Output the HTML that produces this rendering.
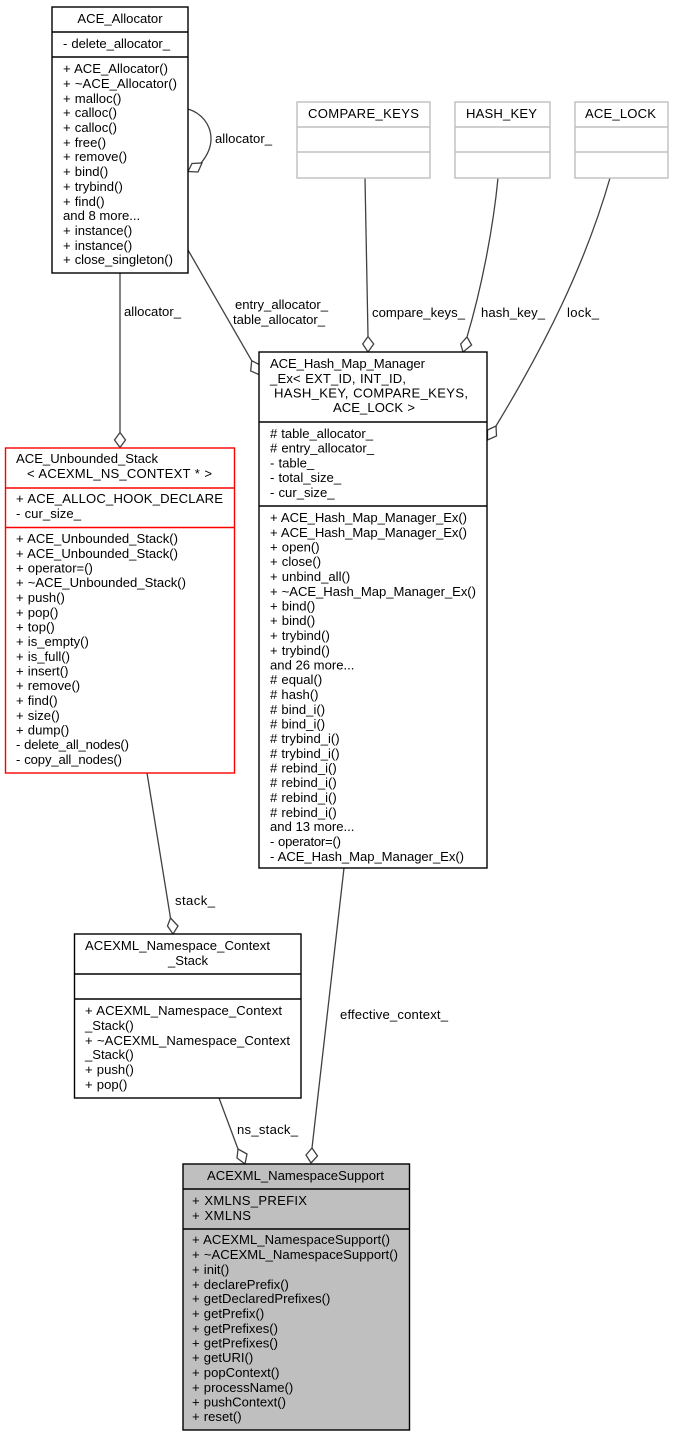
<!DOCTYPE html>
<html><head><meta charset="utf-8"><style>
html,body{margin:0;padding:0;background:#fff}
svg{display:block}
text{font-family:"Liberation Sans",sans-serif;font-size:13.1px;fill:#000;word-spacing:.5px}
.m{text-anchor:middle}
.n{word-spacing:0}
.b{fill:#fff;stroke:#000;stroke-width:1.4}
.g{fill:#fff;stroke:#bfbfbf;stroke-width:1.4}
.r{fill:#fff;stroke:#ff0000;stroke-width:1.4}
.s{fill:#bfbfbf;stroke:#000;stroke-width:1.4}
.e{fill:none;stroke:#404040;stroke-width:1.3}
.d{fill:#fff;stroke:#404040;stroke-width:1.3}
</style></head><body>
<svg width="673" height="1437" viewBox="0 0 673 1437" xmlns="http://www.w3.org/2000/svg">
<!-- edges -->
<path class="e" d="M188 109C201 113 211 124 211 139C211 149 206 157 201 163"/>
<polygon class="d" points="188,171.500 192,163.500 202,163 198,172"/>
<path class="e" d="M120 273V432"/>
<polygon class="d" points="120,432.500 125.500,440 120,447.500 114.500,440"/>
<path class="e" d="M188 250L251.700 360.700"/>
<polygon class="d" points="251.700,360.700 260,365 260,375 250.700,371"/>
<path class="e" d="M365 178L368 336"/>
<polygon class="d" points="368,336.500 373.700,344 368,352 362.700,344"/>
<path class="e" d="M498 178C493 230 481 290 467 337"/>
<polygon class="d" points="467,337 471.600,345 463,352 460.700,344"/>
<path class="e" d="M610 178C585 265 545 345 496 426"/>
<polygon class="d" points="487.500,430 496,426 496.500,436 487.500,440"/>
<path class="e" d="M147 773L170.500 918"/>
<polygon class="d" points="170.500,918 178,926 173,934 167.500,926"/>
<path class="e" d="M219 1098L238 1149"/>
<polygon class="d" points="238,1149 247,1154 245,1164 237,1158"/>
<path class="e" d="M344 868L312 1148"/>
<polygon class="d" points="312,1148 317.500,1156 311,1163 306,1155"/>
<!-- edge labels -->
<text x="215" y="143" textLength="57">allocator_</text>
<text x="124" y="316" textLength="57">allocator_</text>
<text x="235" y="309" textLength="93">entry_allocator_</text>
<text x="233" y="324" textLength="92">table_allocator_</text>
<text x="372" y="317" textLength="93">compare_keys_</text>
<text x="481" y="317" textLength="64">hash_key_</text>
<text x="567" y="317" textLength="32">lock_</text>
<text x="175" y="905" textLength="40">stack_</text>
<text x="340" y="1019" textLength="108">effective_context_</text>
<text x="237" y="1134" textLength="61">ns_stack_</text>
<!-- ACE_Allocator -->
<rect class="b" x="52" y="7" width="136" height="266"/>
<path class="b" d="M52 32H188M52 57H188"/>
<text class="m" x="120" y="23">ACE_Allocator</text>
<text x="63" y="48" textLength="107">- delete_allocator_</text>
<text x="63" y="73" textLength="105">+ ACE_Allocator()</text>
<text x="63" y="88" textLength="114">+ ~ACE_Allocator()</text>
<text x="63" y="103">+ malloc()</text>
<text x="63" y="117">+ calloc()</text>
<text x="63" y="132">+ calloc()</text>
<text x="63" y="147">+ free()</text>
<text x="63" y="161">+ remove()</text>
<text x="63" y="176">+ bind()</text>
<text x="63" y="191">+ trybind()</text>
<text x="63" y="206">+ find()</text>
<text class="n" x="63" y="220">and 8 more...</text>
<text x="63" y="235">+ instance()</text>
<text x="63" y="250">+ instance()</text>
<text x="63" y="264" textLength="110">+ close_singleton()</text>
<!-- gray -->
<rect class="g" x="297" y="102" width="133" height="76"/>
<path class="g" d="M297 127H430M297 152H430"/>
<text x="308" y="118" textLength="111">COMPARE_KEYS</text>
<rect class="g" x="455" y="102" width="95" height="76"/>
<path class="g" d="M455 127H550M455 152H550"/>
<text x="466" y="118" textLength="71">HASH_KEY</text>
<rect class="g" x="575" y="102" width="93" height="76"/>
<path class="g" d="M575 127H668M575 152H668"/>
<text x="585" y="118" textLength="71">ACE_LOCK</text>
<!-- Hash map -->
<rect class="b" x="259" y="352" width="228" height="516"/>
<path class="b" d="M259 422H487M259 506H487"/>
<text x="270" y="368" textLength="155">ACE_Hash_Map_Manager</text>
<text x="270" y="383" textLength="136">_Ex&lt; EXT_ID, INT_ID,</text>
<text x="274" y="397.500" textLength="194">HASH_KEY, COMPARE_KEYS,</text>
<text x="333" y="412" textLength="82">ACE_LOCK &gt;</text>
<text x="270" y="438" textLength="103"># table_allocator_</text>
<text x="270" y="452.500" textLength="104"># entry_allocator_</text>
<text x="270" y="467.500">- table_</text>
<text x="270" y="482">- total_size_</text>
<text x="270" y="497">- cur_size_</text>
<text x="270" y="522" textLength="197">+ ACE_Hash_Map_Manager_Ex()</text>
<text x="270" y="537" textLength="197">+ ACE_Hash_Map_Manager_Ex()</text>
<text x="270" y="551.500">+ open()</text>
<text x="270" y="566">+ close()</text>
<text x="270" y="581">+ unbind_all()</text>
<text x="270" y="596" textLength="206">+ ~ACE_Hash_Map_Manager_Ex()</text>
<text x="270" y="610.500">+ bind()</text>
<text x="270" y="625">+ bind()</text>
<text x="270" y="640">+ trybind()</text>
<text x="270" y="655">+ trybind()</text>
<text class="n" x="270" y="669.500">and 26 more...</text>
<text x="270" y="684"># equal()</text>
<text x="270" y="699"># hash()</text>
<text x="270" y="714"># bind_i()</text>
<text x="270" y="728.500"># bind_i()</text>
<text x="270" y="743"># trybind_i()</text>
<text x="270" y="758"># trybind_i()</text>
<text x="270" y="772.500"># rebind_i()</text>
<text x="270" y="787"># rebind_i()</text>
<text x="270" y="802"># rebind_i()</text>
<text x="270" y="817"># rebind_i()</text>
<text class="n" x="270" y="831">and 13 more...</text>
<text x="270" y="846" textLength="71">- operator=()</text>
<text x="270" y="861" textLength="194">- ACE_Hash_Map_Manager_Ex()</text>
<!-- Unbounded -->
<rect class="r" x="5.500" y="448" width="229" height="325"/>
<path class="r" d="M5.500 488H234.500M5.500 527.500H234.500"/>
<text x="16" y="463" textLength="142">ACE_Unbounded_Stack</text>
<text x="27" y="478" textLength="185">&lt; ACEXML_NS_CONTEXT * &gt;</text>
<text x="16" y="503" textLength="207">+ ACE_ALLOC_HOOK_DECLARE</text>
<text x="16" y="518" textLength="65">- cur_size_</text>
<text x="16" y="543" textLength="162">+ ACE_Unbounded_Stack()</text>
<text x="16" y="558" textLength="162">+ ACE_Unbounded_Stack()</text>
<text x="16" y="572.500">+ operator=()</text>
<text x="16" y="587" textLength="170">+ ~ACE_Unbounded_Stack()</text>
<text x="16" y="602">+ push()</text>
<text x="16" y="617">+ pop()</text>
<text x="16" y="631.500">+ top()</text>
<text x="16" y="646">+ is_empty()</text>
<text x="16" y="661">+ is_full()</text>
<text x="16" y="675.500">+ insert()</text>
<text x="16" y="690">+ remove()</text>
<text x="16" y="705">+ find()</text>
<text x="16" y="720">+ size()</text>
<text x="16" y="734.500">+ dump()</text>
<text x="16" y="749" textLength="113">- delete_all_nodes()</text>
<text x="16" y="764" textLength="106">- copy_all_nodes()</text>
<!-- Context stack -->
<rect class="b" x="74.500" y="934" width="226.500" height="164"/>
<path class="b" d="M74.500 974H301M74.500 999H301"/>
<text x="85" y="950" textLength="185">ACEXML_Namespace_Context</text>
<text class="m" x="188" y="965">_Stack</text>
<text x="85" y="1015" textLength="197">+ ACEXML_Namespace_Context</text>
<text x="85" y="1030">_Stack()</text>
<text x="85" y="1045" textLength="205">+ ~ACEXML_Namespace_Context</text>
<text x="85" y="1059">_Stack()</text>
<text x="85" y="1074">+ push()</text>
<text x="85" y="1089">+ pop()</text>
<!-- Main -->
<rect class="s" x="183" y="1164" width="226.500" height="266"/>
<path class="s" d="M183 1189H409.500M183 1229H409.500"/>
<text x="207" y="1180" textLength="177">ACEXML_NamespaceSupport</text>
<text x="192" y="1205" textLength="115">+ XMLNS_PREFIX</text>
<text x="192" y="1220" textLength="59">+ XMLNS</text>
<text x="192" y="1244" textLength="198">+ ACEXML_NamespaceSupport()</text>
<text x="192" y="1259" textLength="206">+ ~ACEXML_NamespaceSupport()</text>
<text x="192" y="1274">+ init()</text>
<text x="192" y="1289">+ declarePrefix()</text>
<text x="192" y="1303">+ getDeclaredPrefixes()</text>
<text x="192" y="1318">+ getPrefix()</text>
<text x="192" y="1333">+ getPrefixes()</text>
<text x="192" y="1347.500">+ getPrefixes()</text>
<text x="192" y="1362">+ getURI()</text>
<text x="192" y="1377">+ popContext()</text>
<text x="192" y="1392">+ processName()</text>
<text x="192" y="1406.500">+ pushContext()</text>
<text x="192" y="1421">+ reset()</text>
</svg>
</body></html>
